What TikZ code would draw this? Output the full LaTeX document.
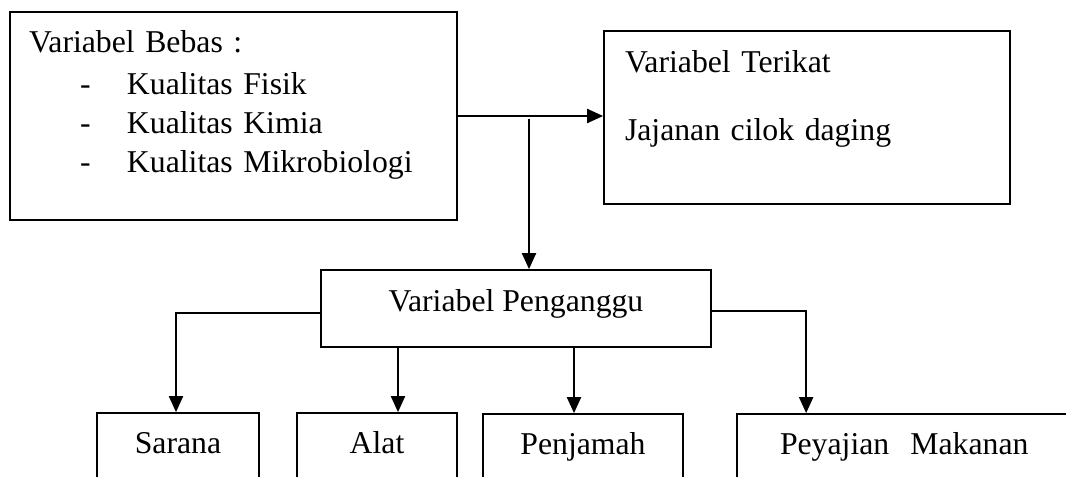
\documentclass[tikz,border=0pt]{standalone}
\usepackage{fontspec}
\setmainfont{Liberation Serif}
\usetikzlibrary{arrows.meta}

\newcommand{\butir}[1]{\makebox[73.5pt][l]{\hspace*{38.25pt}-}#1}

\begin{document}
\begin{tikzpicture}[x=0.75pt, y=-0.75pt,
    every node/.style={font=\fontsize{23.8pt}{29.25pt}\selectfont},
    varbox/.style={rectangle, draw, line width=1.3pt, inner sep=0pt, text height=16.5pt},
    subbox/.style={varbox, minimum height=65.25pt, text depth=21.75pt},
    arrow/.style={-{Triangle[length=12pt, width=10.5pt]}, line width=1.5pt}]

    \useasboundingbox (0,0) rectangle (1066,477);
    \clip (0,0) rectangle (1066,477);

    % variabel bebas dan terikat
    \node[varbox, text width=306.75pt, inner xsep=14.25pt, minimum height=156pt,
          text depth=111pt, align=left] (bebas) at (233.5,116)
          {Variabel Bebas :\\[2.25pt]
           \butir{Kualitas Fisik}\\
           \butir{Kualitas Kimia}\\
           \butir{Kualitas Mikrobiologi}};
    \node[varbox, text width=273pt, inner xsep=15.75pt, minimum height=129.75pt,
          text depth=83.25pt, align=left] (terikat) at (807,117.5)
          {Variabel Terikat\\[21.75pt]Jajanan cilok daging};

    % variabel penganggu
    \node[varbox, minimum width=292.5pt, minimum height=57.75pt, text depth=12.75pt]
          (pgu) at (516,308.5) {Variabel Penganggu};

    \node[subbox, minimum width=121.5pt] (sarana) at (178,456.5) {Sarana};
    \node[subbox, minimum width=120pt] (alat) at (377,456.5) {Alat};
    \node[subbox, minimum width=150pt] (penjamah) at (583,457.5) {Penjamah};
    \node[subbox, text width=207.75pt, inner xsep=32.25pt, align=left]
          (penyajian) at (918.5,457.5) {Peyajian\ \ Makanan};

    \draw[arrow] (bebas.east) -- (bebas.east -| terikat.west);
    \coordinate (cabang) at (529,119);
    \draw[arrow] (cabang) -- (cabang |- pgu.north);

    \coordinate (kalat) at ([xshift=15.75pt]alat.north);
    \coordinate (kjamah) at ([xshift=-6.75pt]penjamah.north);
    \draw[arrow] ([yshift=-3.4pt]pgu.west) -| ([xshift=-1.5pt]sarana.north);
    \draw[arrow] (kalat |- pgu.south) -- (kalat);
    \draw[arrow] (kjamah |- pgu.south) -- (kjamah);
    \draw[arrow] ([yshift=-1.9pt]pgu.east) -| ([xshift=52.5pt]penyajian.north west);
\end{tikzpicture}
\end{document}
